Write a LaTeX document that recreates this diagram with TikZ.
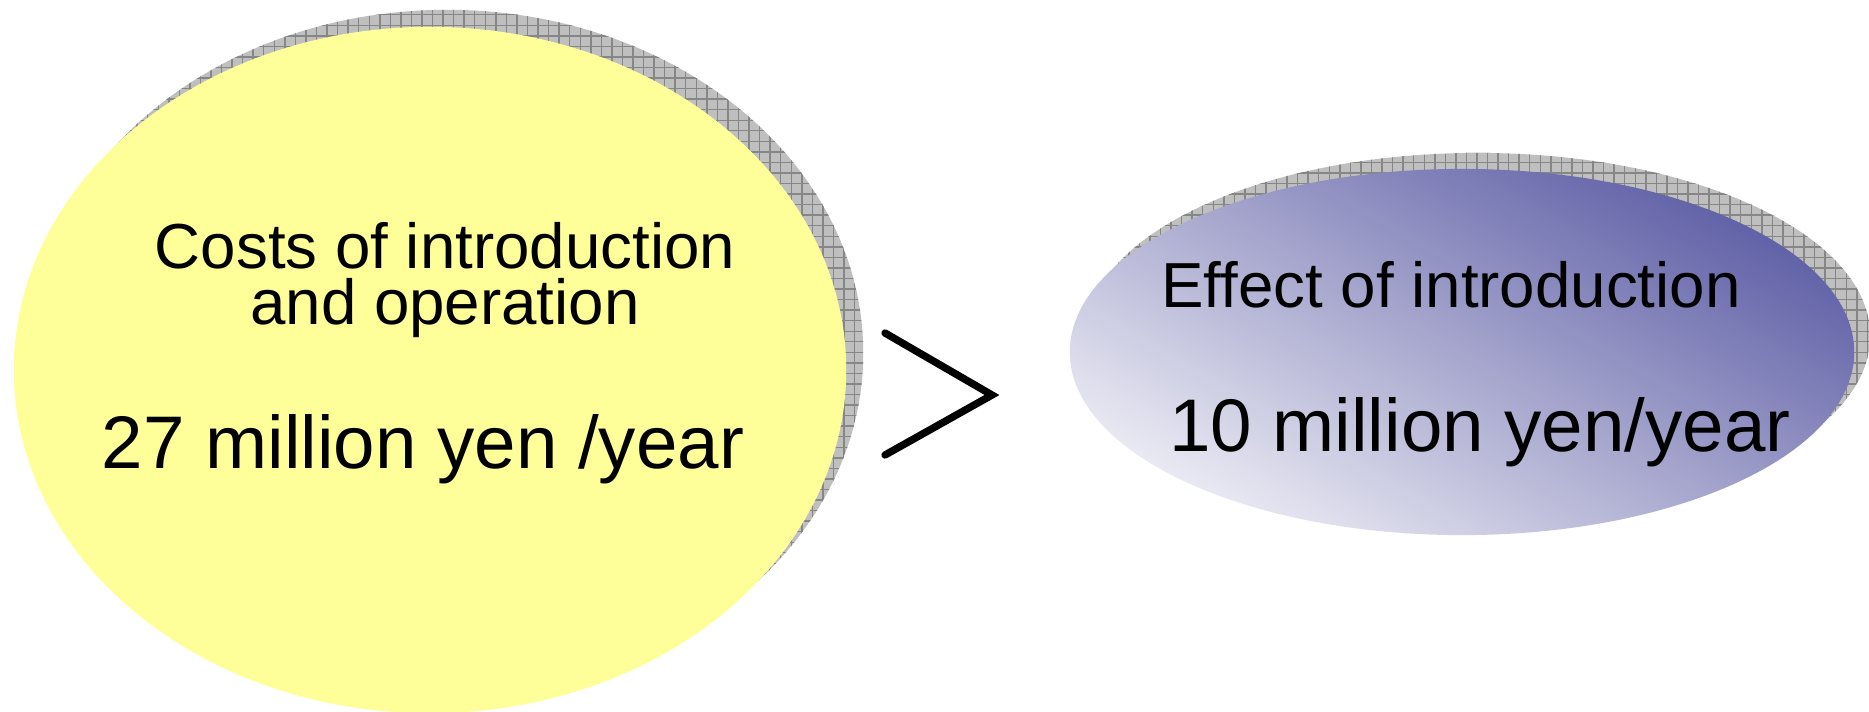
\documentclass[tikz,border=0pt]{standalone}
\usepackage{fontspec}
\setmainfont{Liberation Sans}
\usetikzlibrary{shapes.geometric,patterns}
\definecolor{costyellow}{RGB}{255,255,153}
\definecolor{effblue}{RGB}{76,76,156}
\pgfdeclareverticalshading{effshade}{100bp}{color(0bp)=(white); color(31bp)=(white); color(69bp)=(effblue); color(100bp)=(effblue)}
\begin{document}
\begin{tikzpicture}[x=0.01cm,y=-0.01cm,
  shadowell/.style={ellipse, inner sep=0pt, draw=none, preaction={fill=gray!50}, pattern=grid, pattern color=gray!95},
  bigell/.style={ellipse, inner sep=0pt, draw=none, minimum width=8.32cm, minimum height=6.86cm},
  smallell/.style={ellipse, inner sep=0pt, draw=none, minimum width=7.84cm, minimum height=3.66cm},
  smalltext/.style={inner sep=0pt, font=\fontsize{18.1}{15.9}\selectfont},
  bigtext/.style={anchor=base, inner sep=0pt, font=\fontsize{21.2}{26}\selectfont},
  gtline/.style={line width=2.1pt, line cap=round, line join=miter}]
\useasboundingbox (0,0) rectangle (1869,711);
% left ellipse
\node[bigell, shadowell] (costshadow) at (447,353) {};
\node[bigell, fill=costyellow] (cost) at (430,370) {};
% right ellipse
\node[smallell, shadowell] (effshadow) at (1478,336) {};
\node[smallell, path picture={
  \shade[shading=effshade, shading angle=-30]
    ([shift={(-440,-440)}]path picture bounding box.center) rectangle
    ([shift={(440,440)}]path picture bounding box.center);}] (effect) at (1462,352) {};
% texts
\node[smalltext, align=center, anchor=base] (costa) at (445,324) {Costs of introduction\\and operation};
\node[bigtext] (costc) at (423,468) {27 million yen /year};
\node[smalltext, anchor=base] (effa) at (1451,307) {Effect of introduction};
\node[bigtext] (effb) at (1480,451) {10 million yen/year};
% greater-than sign
\coordinate (gtop) at (885,333);
\coordinate (gtip) at (992,395);
\coordinate (gbot) at (885,455);
\draw[gtline] (gtop) -- (gtip) -- (gbot);
\end{tikzpicture}
\end{document}
